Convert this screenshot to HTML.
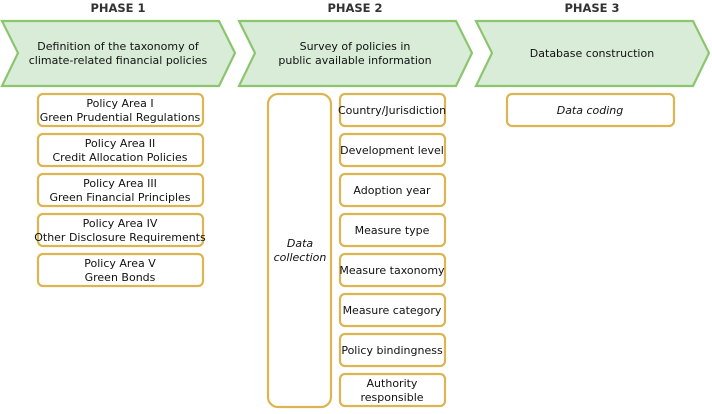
<!DOCTYPE html>
<html><head><meta charset="utf-8"><style>
body{margin:0;background:#fff}
svg text{font-family:"DejaVu Sans","Liberation Sans",sans-serif;font-size:11px;fill:#111;text-anchor:middle}
.b{fill:#fff;stroke:#dcb552;stroke-width:2.2}
.c{fill:#d8ecd8;stroke:#8cc56e;stroke-width:2.2}
.h{font-weight:bold;font-size:11.5px;fill:#333}
</style></head><body>
<svg width="712" height="409" viewBox="0 0 712 409">
<text class="h" x="118" y="12">PHASE 1</text>
<text class="h" x="355" y="12">PHASE 2</text>
<text class="h" x="592" y="12">PHASE 3</text>
<polygon class="c" points="2,21 219,21 235,53 219,86 2,86 18,53"/>
<polygon class="c" points="239,21 456,21 472,53 456,86 239,86 255,53"/>
<polygon class="c" points="476,21 693,21 709,53 693,86 476,86 492,53"/>
<text x="118" y="50">Definition of the taxonomy of</text>
<text x="118" y="64">climate-related financial policies</text>
<text x="355" y="50">Survey of policies in</text>
<text x="355" y="64">public available information</text>
<text x="592" y="57">Database construction</text>
<g>
<rect class="b" x="38" y="94" width="165" height="32" rx="5"/><text x="120" y="107">Policy Area I</text><text x="120" y="121">Green Prudential Regulations</text>
<rect class="b" x="38" y="134" width="165" height="32" rx="5"/><text x="120" y="147">Policy Area II</text><text x="120" y="161">Credit Allocation Policies</text>
<rect class="b" x="38" y="174" width="165" height="32" rx="5"/><text x="120" y="187">Policy Area III</text><text x="120" y="201">Green Financial Principles</text>
<rect class="b" x="38" y="214" width="165" height="32" rx="5"/><text x="120" y="227">Policy Area IV</text><text x="120" y="241">Other Disclosure Requirements</text>
<rect class="b" x="38" y="254" width="165" height="32" rx="5"/><text x="120" y="267">Policy Area V</text><text x="120" y="281">Green Bonds</text>
</g>
<rect class="b" x="268" y="94" width="63" height="313" rx="10"/>
<text x="300" y="247" font-style="italic">Data</text><text x="300" y="261" font-style="italic">collection</text>
<g>
<rect class="b" x="340" y="94" width="105" height="32" rx="5"/><text x="392" y="114">Country/Jurisdiction</text>
<rect class="b" x="340" y="134" width="105" height="32" rx="5"/><text x="392" y="154">Development level</text>
<rect class="b" x="340" y="174" width="105" height="32" rx="5"/><text x="392" y="194">Adoption year</text>
<rect class="b" x="340" y="214" width="105" height="32" rx="5"/><text x="392" y="234">Measure type</text>
<rect class="b" x="340" y="254" width="105" height="32" rx="5"/><text x="392" y="274">Measure taxonomy</text>
<rect class="b" x="340" y="294" width="105" height="32" rx="5"/><text x="392" y="314">Measure category</text>
<rect class="b" x="340" y="334" width="105" height="32" rx="5"/><text x="392" y="354">Policy bindingness</text>
<rect class="b" x="340" y="374" width="105" height="32" rx="5"/><text x="392" y="387">Authority</text><text x="392" y="401">responsible</text>
</g>
<rect class="b" x="507" y="94" width="167" height="32" rx="5"/><text x="590" y="114" font-style="italic">Data coding</text>
</svg>
</body></html>
